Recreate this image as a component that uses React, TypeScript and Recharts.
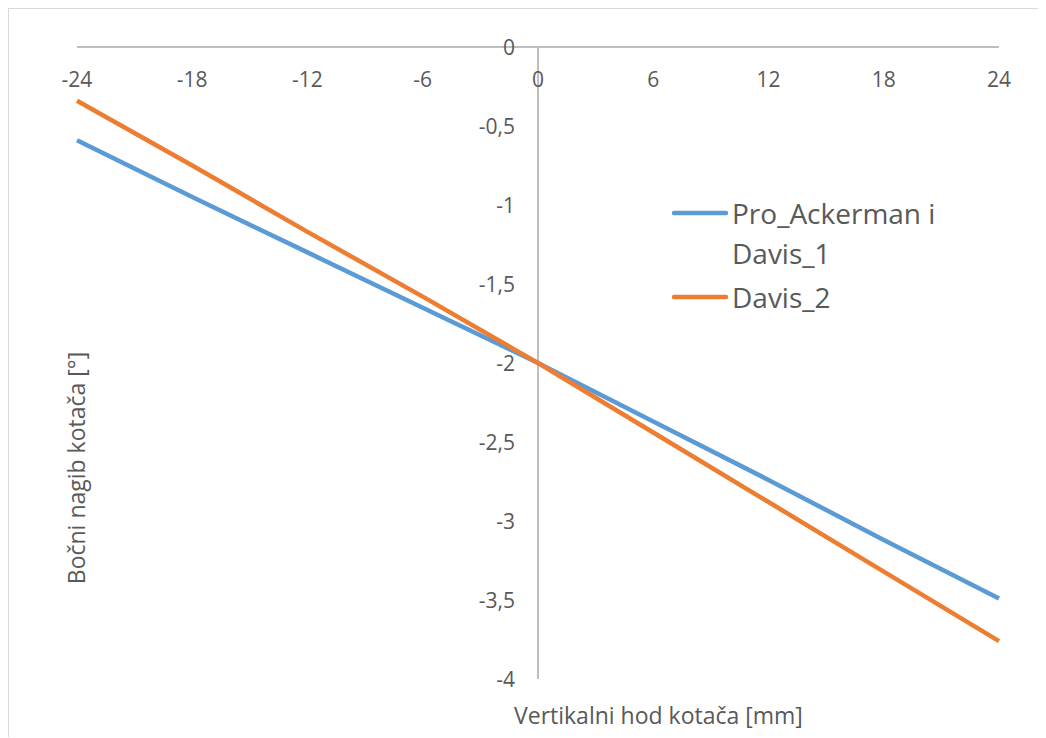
import React from "react";
import { LineChart, Line, XAxis, YAxis, ReferenceLine, Legend } from "recharts";

const xValues = [-24, -18, -12, -6, 0, 6, 12, 18, 24];
const blueValues = [-0.59, -0.95, -1.3, -1.65, -2.0, -2.37, -2.74, -3.12, -3.49];
const orangeValues = [-0.34, -0.75, -1.17, -1.58, -2.0, -2.44, -2.88, -3.32, -3.76];
const xTicks = [-24, -18, -12, -6, 0, 6, 12, 18, 24];
const yTicks = [0, -0.5, -1, -1.5, -2, -2.5, -3, -3.5, -4];
const seriesNames = ["Pro_Ackerman i Davis_1", "Davis_2"];
const seriesColors = ["#5B9BD5", "#ED7D31"];
const xTitle = "Vertikalni hod kotača [mm]";
const yTitle = "Bočni nagib kotača [°]";

const data = xValues.map((x, i) => ({ x, blue: blueValues[i], orange: orangeValues[i] }));

const W = 1036;
const H = 728;
const PLOT_LEFT = 68;
const PLOT_TOP = 38;
const PLOT_W = 922;
const PLOT_H = 632;
const X0 = PLOT_LEFT + (PLOT_W * (0 - -24)) / 48;
const FONT = "'Open Sans', 'Noto Sans', sans-serif";
const TEXT = "#595959";
const AXIS = "#bfbfbf";

const fmt = (v: number) => String(v).replace(".", ",");

const XTick = (props: any) => (
  <text x={props.x} y={PLOT_TOP + 32} textAnchor="middle" dominantBaseline="central" fontFamily={FONT} fontSize={21} fill={TEXT}>
    {fmt(props.payload.value)}
  </text>
);

const YTick = (props: any) => (
  <text x={X0 - 23} y={props.y} textAnchor="end" dominantBaseline="central" fontFamily={FONT} fontSize={21} fill={TEXT}>
    {fmt(props.payload.value)}
  </text>
);

const XTitle = () => (
  <text x={505} y={706} textAnchor="start" dominantBaseline="central" fontFamily={FONT} fontSize={23} fill={TEXT}>
    {xTitle}
  </text>
);

const YTitle = () => (
  <text x={67} y={459} textAnchor="middle" dominantBaseline="central" fontFamily={FONT} fontSize={23} fill={TEXT} transform={`rotate(-90 67 459)`}>
    {yTitle}
  </text>
);

const LegendContent = () => (
  <div style={{ fontFamily: FONT, fontSize: 28, color: TEXT }}>
    {seriesNames.map((name, i) => (
      <div key={i} style={{ display: "flex", alignItems: "flex-start", marginBottom: 4 }}>
        <svg width={60} height={40} style={{ flex: "none" }}>
          <line x1={2} y1={20} x2={54} y2={20} stroke={seriesColors[i]} strokeWidth={4.5} strokeLinecap="round" />
        </svg>
        <div style={{ width: 225, lineHeight: "40px", whiteSpace: "normal" }}>{name}</div>
      </div>
    ))}
  </div>
);

export default function App() {
  return (
    <div style={{ width: W, height: H, borderTop: "1px solid #d9d9d9", borderLeft: "1px solid #d9d9d9", background: "#fff" }}>
      <LineChart
        width={W}
        height={H}
        data={data}
        margin={{ top: PLOT_TOP - 1, left: PLOT_LEFT - 1, right: W - PLOT_LEFT - PLOT_W, bottom: H - PLOT_TOP - PLOT_H }}
      >
        <XAxis
          dataKey="x"
          type="number"
          domain={[-24, 24]}
          ticks={xTicks}
          orientation="top"
          height={1}
          tickLine={false}
          axisLine={{ stroke: AXIS, strokeWidth: 2 }}
          tick={<XTick />}
          interval={0}
          label={{ content: () => <XTitle /> }}
        />
        <YAxis
          type="number"
          domain={[-4, 0]}
          ticks={yTicks}
          width={1}
          tickLine={false}
          axisLine={false}
          tick={<YTick />}
          interval={0}
          label={{ content: () => <YTitle /> }}
        />
        <ReferenceLine x={0} stroke={AXIS} strokeWidth={2} />
        <Legend
          layout="horizontal"
          verticalAlign="middle"
          align="center"
          content={<LegendContent />}
          wrapperStyle={{ position: "absolute", left: 663, top: 184, width: 300 }}
        />
        <Line dataKey="blue" name={seriesNames[0]} stroke={seriesColors[0]} strokeWidth={4.5} dot={false} isAnimationActive={false} />
        <Line dataKey="orange" name={seriesNames[1]} stroke={seriesColors[1]} strokeWidth={4.5} dot={false} isAnimationActive={false} />
      </LineChart>
    </div>
  );
}
